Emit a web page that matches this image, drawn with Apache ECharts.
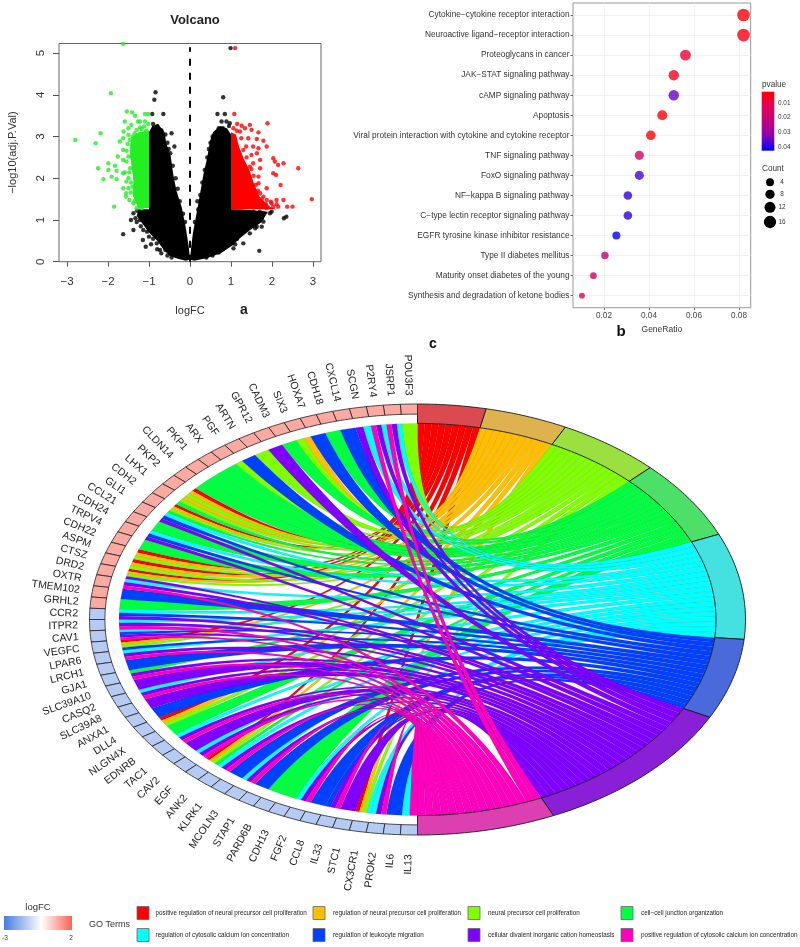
<!DOCTYPE html>
<html><head><meta charset="utf-8">
<style>html,body{margin:0;padding:0;background:#fff}#c{width:800px;height:947px}</style>
<script src="https://cdn.jsdelivr.net/npm/echarts@6/dist/echarts.min.js"></script>
</head><body><div id="c"></div>
<script>
const FONT='"Liberation Sans",Arial,sans-serif';
// ---------- a: volcano ----------
const volcanoBlackLeftCloud=[[-1,1.26],[-1,3.1],[-0.92,3.25],[-0.78,3.3],[-0.62,3.1],[-0.58,2.85],[-0.47,2.53],[-0.41,2.1],[-0.33,1.7],[-0.2,1.3],[-0.1,0.8],[-0.03,0.36],[0,0.05],[-0.1,0.02],[-0.3,0.07],[-0.5,0.14],[-0.65,0.3],[-0.8,0.5],[-1,0.7],[-1.15,0.9],[-1.3,1.1],[-1.25,1.26]];
const volcanoBlackRightCloud=[[0,0.05],[0.03,0.36],[0.07,0.68],[0.16,1.16],[0.33,2.1],[0.42,2.5],[0.49,2.9],[0.56,3.1],[0.73,3.25],[0.9,3.2],[1,3.05],[1,1.26],[1.3,1.25],[1.9,1.2],[1.75,0.95],[1.45,0.75],[1.2,0.55],[1.05,0.4],[0.75,0.2],[0.4,0.08],[0.1,0.02]];
const volcanoGreenCloud=[[-1,1.28],[-1,3.15],[-1.25,3.1],[-1.42,2.98],[-1.46,2.8],[-1.46,2.55],[-1.42,2.25],[-1.38,1.95],[-1.4,1.6],[-1.26,1.28]];
const volcanoRedCloud=[[1,1.26],[1,3.1],[1.12,3.05],[1.2,2.75],[1.32,2.45],[1.45,2.2],[1.55,1.9],[1.7,1.55],[1.95,1.32],[2.1,1.26]];
const volcanoBlackPoints=[[0.99,5.12],[-0.84,4.06],[-0.87,3.88],[0.81,3.94],[-0.92,3.54],[-0.65,3.54],[0.67,3.54],[0.85,3.54],[0.77,3.36],[0.89,3.36],[0.97,3.32],[-0.45,3.08],[-0.38,2.76],[1.69,0.26],[2.29,1.04],[2.35,1.08],[1.99,1.2],[-1.63,0.66],[-1.08,0.36],[-1.38,0.76],[-1.44,1.0],[-1.33,1.04],[-1.22,1.0],[-1.38,1.16],[-1.29,1.22],[-1.14,0.76],[-1.15,0.52],[-1.02,1.08],[-0.81,0.44],[-0.73,0.28],[1.63,0.84],[1.79,0.96],[1.75,0.84],[1.46,0.68],[1.59,0.8],[1.3,0.44],[1.22,0.68],[1.06,0.32],[1.38,1.0],[1.54,1.08],[1.79,1.16],[1.75,1.04],[1.95,1.16],[1.38,1.16],[-1.3,0.95],[-1.2,0.85],[-1.05,0.72],[-1.0,0.6],[-0.9,0.55],[-0.95,0.42],[-0.8,0.3],[-0.7,0.2],[-0.6,0.28],[-0.55,0.15],[-0.45,0.1],[1.5,0.95],[1.4,0.85],[1.3,0.75],[1.15,0.55],[1.1,0.42],[1.0,0.45],[0.9,0.38],[0.8,0.3],[0.7,0.22],[0.55,0.15],[0.4,0.1],[1.7,1.2],[1.55,1.2],[1.65,1.0],[1.25,0.9],[1.45,0.9],[-0.9,3.3],[-0.8,3.25],[-0.7,3.15],[-0.6,3.05],[-0.55,2.85],[-0.48,2.6],[-0.42,2.3],[-0.35,2.0],[-0.3,1.75],[-0.25,1.45],[0.95,3.25],[0.8,3.2],[0.7,3.2],[0.55,3.0],[0.5,2.85],[0.42,2.5],[0.36,2.2],[0.3,1.9],[0.25,1.6],[0.18,1.45],[-0.12,0.95],[-0.17,1.15],[0.12,0.95],[0.2,1.25],[-0.52,2.7],[0.46,2.7]];
const volcanoGreenPoints=[[-2.8,2.92],[-2.3,2.84],[-2.18,3.08],[-2.24,2.24],[-1.99,2.36],[-1.83,2.3],[-1.99,2.2],[-1.79,2.18],[-2.11,1.98],[-1.91,2.04],[-1.79,1.98],[-1.85,1.32],[-1.93,4.04],[-1.63,5.22],[-1.54,3.6],[-1.41,3.58],[-1.34,3.5],[-1.1,3.54],[-1.02,3.54],[-1.22,3.36],[-1.1,3.36],[-1.02,3.3],[-1.59,3.36],[-1.43,3.28],[-1.27,3.36],[-1.62,3.12],[-1.5,3.2],[-1.3,3.16],[-1.18,3.18],[-1.07,3.14],[-1.71,2.88],[-1.63,2.96],[-1.5,3.04],[-1.4,3.0],[-1.63,2.68],[-1.55,2.66],[-1.76,2.52],[-1.63,2.44],[-1.55,2.4],[-1.46,2.24],[-1.59,2.14],[-1.5,2.0],[-1.63,2.12],[-1.55,1.92],[-1.63,1.76],[-1.5,1.76],[-1.56,1.64],[-1.56,1.56],[-1.48,1.48],[-1.38,1.4],[-1.3,1.28],[-1.18,1.28],[-1.38,2.76],[-1.42,2.52],[-1.34,2.12],[-1.4,1.8],[-1.34,1.6],[-1.52,2.82],[-1.5,2.52],[-1.48,2.14],[-1.44,1.9],[-1.45,1.66],[-1.35,1.45],[-1.22,3.22],[-1.12,3.24],[-1.35,3.08],[-1.47,2.92]];
const volcanoRedPoints=[[1.08,3.54],[1.1,5.12],[1.15,3.3],[1.26,3.26],[1.46,3.28],[1.22,3.12],[1.34,3.2],[1.5,3.16],[1.67,3.1],[1.89,3.32],[1.42,2.96],[1.63,2.94],[1.79,2.9],[1.87,2.76],[1.54,2.76],[1.67,2.72],[1.5,2.56],[1.63,2.6],[1.37,2.76],[1.71,2.44],[1.54,2.36],[1.46,2.28],[1.71,2.24],[2.03,2.48],[2.07,2.4],[2.15,2.32],[2.28,2.36],[2.64,2.24],[2.03,2.12],[2.1,2.08],[2.21,1.84],[1.67,2.04],[1.67,1.88],[1.87,1.76],[1.71,1.64],[2.11,1.48],[2.28,1.48],[1.99,1.4],[2.97,1.5],[2.37,1.32],[2.5,1.32],[2.15,1.32],[2.03,1.32],[1.87,1.48],[1.79,1.56],[1.63,1.48],[1.54,1.72],[1.42,1.96],[1.38,2.12],[1.87,1.28],[1.54,1.36],[1.71,1.38],[1.97,1.44],[2.11,1.38],[1.14,3.14],[1.25,2.96],[1.3,2.68],[1.38,2.5],[1.5,2.22],[1.55,2.06],[1.6,1.84],[1.66,1.7],[1.75,1.5],[1.85,1.38],[1.06,3.2]];
const volcanoXTicks=[-3,-2,-1,0,1,2,3];
const volcanoClouds=[volcanoBlackLeftCloud,volcanoBlackRightCloud,volcanoGreenCloud,volcanoRedCloud];
const volcanoCloudColors=['#000','#000','#22ee22','#ff0000'];

// ---------- b: dot plot ----------
const pathways=['Cytokine\u2212cytokine receptor interaction','Neuroactive ligand\u2212receptor interaction','Proteoglycans in cancer','JAK\u2212STAT signaling pathway','cAMP signaling pathway','Apoptosis','Viral protein interaction with cytokine and cytokine receptor','TNF signaling pathway','FoxO signaling pathway','NF\u2212kappa B signaling pathway','C\u2212type lectin receptor signaling pathway','EGFR tyrosine kinase inhibitor resistance','Type II diabetes mellitus','Maturity onset diabetes of the young','Synthesis and degradation of ketone bodies'];
const geneRatio=[0.082,0.082,0.0562,0.0510,0.0510,0.0459,0.0408,0.0357,0.0357,0.0306,0.0306,0.0255,0.0204,0.0153,0.0102];
const pathwayCount=[16,16,11,10,10,9,8,7,7,6,6,5,4,3,2];
const pathwayP=[0.0025,0.0045,0.0075,0.0055,0.035,0.0035,0.003,0.0165,0.037,0.039,0.039,0.042,0.021,0.016,0.013];
const ratioTicks=[0.02,0.04,0.06,0.08];
const pRange=[0.0023,0.0423];
const pRamp=['#ff0000','#e2005a','#c1007c','#8c00b5','#0000ff'];
const pTicks=[0.01,0.02,0.03,0.04];
const countTicks=[4,8,12,16];

// ---------- c: GO chord ----------
const genes=['POU3F3','JSRP1','P2RY4','SCGN','CXCL14','CDH18','HOXA7','SIX3','CADM3','GPR12','ARTN','PGF','ARX','PKP1','CLDN14','PKP2','LHX1','CDH2','GLI1','CCL21','CDH24','TRPV4','CDH22','ASPM','CTSZ','DRD2','OXTR','TMEM102','GRHL2','CCR2','ITPR2','CAV1','VEGFC','LPAR6','LRCH1','GJA1','SLC39A10','CASQ2','SLC39A8','ANXA1','DLL4','NLGN4X','EDNRB','TAC1','CAV2','EGF','ANK2','KLRK1','MCOLN3','STAP1','PARD6B','CDH13','FGF2','CCL8','IL33','STC1','CX3CR1','PROK2','IL6','IL13'];
const geneLogFC=[1.1,1.1,1.1,1.1,1.1,1.1,1.1,1.1,1.1,1.1,1.1,1.1,1.1,1.1,1.1,1.1,1.1,1.1,1.1,1.1,1.1,1.1,1.1,1.1,1.1,1.1,1.1,1.1,1.1,-1.2,-1.2,-1.2,-1.2,-1.2,-1.2,-1.2,-1.2,-1.2,-1.2,-1.2,-1.2,-1.2,-1.2,-1.2,-1.2,-1.2,-1.2,-1.2,-1.2,-1.2,-1.2,-1.2,-1.2,-1.2,-1.2,-1.2,-1.2,-1.2,-1.2,-1.2];
// terms per gene: 0 red 1 orange 2 lime 3 green 4 cyan 5 blue 6 purple 7 magenta
const geneTerms=[[2],[4,6,7],[4,6,7],[4,6],[5],[3],[5],[1,2],[3],[6],[2],[5],[2,3],[3],[3],[3],[0,1,2],[1,2,3],[0,1,2,3],[4,5,6],[3],[4,5,6],[3],[0,1,2],[0,1,2],[0,1,2,6],[4,6,7],[5],[3],[4,5,6],[4,6,7],[4,5,6,7],[0,1,2,5],[4,6,7],[5],[3,6,7],[6],[4,6,7],[6],[5],[0,1,2],[3],[4,6,7],[6],[4,6,7],[0,1,2,3],[4,6,7],[5],[4,6,7],[5],[3],[3],[4,6,7],[5],[5,6,7],[6],[0,1,2,4],[4,6,7],[5],[4,7]];
const goTerms=['positive regulation of neural precursor cell proliferation','regulation of neural precursor cell proliferation','neural precursor cell proliferation','cell\u2212cell junction organization','regulation of cytosolic calcium ion concentration','regulation of leukocyte migration','cellular divalent inorganic cation homeostasis','positive regulation of cytosolic calcium ion concentration'];
const termColors=['#FF0000','#FFBF00','#80FF00','#00FF40','#00FFFF','#0040FF','#8000FF','#FF00BF'];
const termBandColors=['#DA4A50','#DDB24F','#9AE040','#4DE068','#45E0E0','#4A6ADC','#8A1FD8','#DC40B0'];
const termArcEnds=[12.1,26.8,45.2,66.7,95.3,117,155.5,180]; // degrees clockwise from top

const RIB=0.91, TILE_IN=0.953;
const geneStep=180/genes.length;
const toXY=(deg,r)=>[r*Math.sin(deg*Math.PI/180),r*Math.cos(deg*Math.PI/180)];
const termMembers=termColors.map(()=>[]);
geneTerms.forEach((ts,g)=>ts.forEach(t=>termMembers[t].push(g)));
const ribbons=[];
termColors.forEach((_,t)=>{
  const a0=t?termArcEnds[t-1]:0,a1=termArcEnds[t],w=(a1-a0)/termMembers[t].length;
  termMembers[t].forEach((g,s)=>{
    const ts=geneTerms[g],i=ts.indexOf(t),gw=geneStep/ts.length;
    ribbons.push([g,t,g*geneStep+i*gw,g*geneStep+(i+1)*gw,a0+s*w,a0+(s+1)*w]);
  });
});
function lerpColor(v){
  const end=v>0?[248,100,85]:[70,125,225],f=v>0?v/2:-v/3,c=end.map(e=>Math.round(255+(e-255)*f));
  return 'rgb('+c.join(',')+')';
}
function arcPts(a0,a1,r,n){const o=[];for(let i=0;i<=n;i++)o.push(toXY(a0+(a1-a0)*i/n,r));return o;}
function ribbonPts(d){
  const A1=toXY(-d[2],RIB),A2=toXY(-d[3],RIB),B1=toXY(d[4],RIB),B2=toXY(d[5],RIB),pts=[],N=30;
  for(let i=0;i<=N;i++){const t=i/N,a=(1-t)*(1-t),b=t*t;pts.push([a*A1[0]+b*B1[0],a*A1[1]+b*B1[1]]);}
  for(let i=N;i>=0;i--){const t=i/N,a=(1-t)*(1-t),b=t*t;pts.push([a*A2[0]+b*B2[0],a*A2[1]+b*B2[1]]);}
  return pts;
}

const minusFmt=v=>String(v).replace('-','\u2212');
const option={
  animation:false,backgroundColor:'#fff',textStyle:{fontFamily:FONT},
  title:{text:'Volcano',left:190,top:9,textAlign:'center',textStyle:{fontFamily:FONT,fontSize:13,fontWeight:'bold',color:'#222'}},
  grid:[
    {left:59,top:43.5,width:262,height:218.2,show:true,borderColor:'#666',borderWidth:1,backgroundColor:'#fff'},
    {left:573,top:3,width:177.7,height:304.7,show:true,borderColor:'#999',borderWidth:1},
    {left:89.5,top:404,width:656,height:431}
  ],
  xAxis:[
    {gridIndex:0,type:'value',min:-3.195,max:3.195,name:'logFC',nameLocation:'middle',nameGap:44,nameTextStyle:{fontSize:11,color:'#333'},
     axisLine:{show:false,onZero:false},splitLine:{show:false},
     axisTick:{show:true,length:5,lineStyle:{color:'#555'},customValues:volcanoXTicks},
     axisLabel:{fontSize:11.5,color:'#333',margin:14,formatter:minusFmt,customValues:volcanoXTicks}},
    {gridIndex:1,type:'value',min:0.00622,max:0.0852,name:'GeneRatio',nameLocation:'middle',nameGap:17,nameTextStyle:{fontSize:8.5,color:'#333'},
     axisLine:{show:false,onZero:false},splitLine:{show:true,lineStyle:{color:'#eeeeee',width:0.8}},
     axisTick:{show:true,length:2.5,lineStyle:{color:'#666'},customValues:ratioTicks},
     axisLabel:{fontSize:8.2,color:'#444',margin:4,formatter:v=>v.toFixed(2),customValues:ratioTicks}},
    {gridIndex:2,type:'value',min:-1,max:1,show:false}
  ],
  yAxis:[
    {gridIndex:0,type:'value',min:0,max:5.23,interval:1,name:'-log10(adj.P.Val)'.replace('-','\u2212'),nameLocation:'middle',nameGap:41,nameTextStyle:{fontSize:11,color:'#333'},
     axisLine:{show:false,onZero:false},splitLine:{show:false},axisTick:{show:true,length:6,lineStyle:{color:'#555'}},
     axisLabel:{fontSize:11.5,color:'#333',rotate:90,margin:12}},
    {gridIndex:1,type:'value',inverse:true,min:-0.6,max:14.6,
     axisLine:{show:false,onZero:false},splitLine:{show:true,lineStyle:{color:'#eeeeee',width:0.8}},
     axisTick:{show:true,length:2.5,lineStyle:{color:'#666'},customValues:pathways.map((_,i)=>i)},
     axisLabel:{fontSize:8.3,color:'#333',margin:3.5,formatter:v=>pathways[v]||'',customValues:pathways.map((_,i)=>i)}},
    {gridIndex:2,type:'value',min:-1,max:1,show:false}
  ],
  visualMap:[{show:false,seriesIndex:4,dimension:3,min:pRange[0],max:pRange[1],inRange:{color:pRamp}}],
  series:[
    {name:'clouds',type:'custom',xAxisIndex:0,yAxisIndex:0,clip:true,data:volcanoClouds.map((_,i)=>[i]),z:2,
     renderItem:(p,api)=>({type:'polygon',shape:{points:volcanoClouds[p.dataIndex].map(c=>api.coord(c))},style:{fill:volcanoCloudColors[p.dataIndex]}})},
    {name:'not significant',type:'scatter',xAxisIndex:0,yAxisIndex:0,symbolSize:4.4,itemStyle:{color:'#000'},data:volcanoBlackPoints,z:3,
     markLine:{silent:true,symbol:'none',label:{show:false},lineStyle:{color:'#000',width:2,type:[7,7]},z:3,data:[[{coord:[0,0]},{coord:[0,5.14]}]]}},
    {name:'down',type:'scatter',xAxisIndex:0,yAxisIndex:0,symbolSize:4.4,itemStyle:{color:'#22ee22'},data:volcanoGreenPoints,z:4},
    {name:'up',type:'scatter',xAxisIndex:0,yAxisIndex:0,symbolSize:4.4,itemStyle:{color:'#ff0000'},data:volcanoRedPoints,z:4},
    {name:'pathways',type:'scatter',xAxisIndex:1,yAxisIndex:1,z:4,
     data:pathways.map((_,i)=>[geneRatio[i],i,pathwayCount[i],pathwayP[i]]),
     symbolSize:d=>2.2+2.62*Math.sqrt(d[2])},
    {name:'ribbons',type:'custom',xAxisIndex:2,yAxisIndex:2,clip:false,z:2,data:ribbons,
     renderItem:(p,api)=>{const d=ribbons[p.dataIndex];
       return {type:'polygon',shape:{points:ribbonPts(d).map(c=>api.coord(c))},style:{fill:termColors[d[1]],stroke:'rgba(0,0,0,0.28)',lineWidth:0.3}};}},
    {name:'terms',type:'custom',xAxisIndex:2,yAxisIndex:2,clip:false,z:3,data:termArcEnds.map((_,i)=>[i]),
     renderItem:(p,api)=>{const t=p.dataIndex,a0=t?termArcEnds[t-1]:0,a1=termArcEnds[t];
       const pts=arcPts(a0,a1,1,30).concat(arcPts(a1,a0,RIB,30));
       return {type:'polygon',shape:{points:pts.map(c=>api.coord(c))},style:{fill:termBandColors[t],stroke:'#1a1a1a',lineWidth:0.9}};}},
    {name:'geneTiles',type:'custom',xAxisIndex:2,yAxisIndex:2,clip:false,z:3,data:genes.map((_,i)=>[i]),
     renderItem:(p,api)=>{const g=p.dataIndex,a0=-g*geneStep,a1=-(g+1)*geneStep;
       const pts=arcPts(a0,a1,1,4).concat(arcPts(a1,a0,TILE_IN,4));
       return {type:'polygon',shape:{points:pts.map(c=>api.coord(c))},style:{fill:lerpColor(geneLogFC[g]),stroke:'#222',lineWidth:0.8}};}},
    {name:'geneLabels',type:'custom',xAxisIndex:2,yAxisIndex:2,clip:false,z:3,data:genes.map((_,i)=>[i]),
     renderItem:(p,api)=>{const g=p.dataIndex,th=(g+0.5)*geneStep,rad=th*Math.PI/180,s=Math.sin(rad),c=Math.cos(rad);
       const s2=Math.sin(2*rad),rx=1.035+0.055*s2*s2,ry=c>0?1.04:1.04-0.05*c;
       const pt=api.coord([-rx*s,ry*c]);
       return {type:'text',x:pt[0],y:pt[1],rotation:(th-90)*Math.PI/180,
         style:{text:genes[g],fontSize:10.5,fontFamily:FONT,fill:'#222',align:'right',verticalAlign:'middle'}};}}
  ],
  graphic:{elements:[]}
};
const G=option.graphic.elements;
const txt=(t,x,y,o={})=>G.push({type:'text',x,y,silent:true,style:Object.assign({text:t,fontFamily:FONT,fontSize:8,fill:'#333',align:'left',verticalAlign:'middle'},o)});
txt('a',244,310,{fontSize:14,fontWeight:'bold',fill:'#222',align:'center'});
txt('b',621,332,{fontSize:15,fontWeight:'bold',fill:'#111',align:'center'});
txt('c',433,344,{fontSize:14,fontWeight:'bold',fill:'#111',align:'center'});
txt('pvalue',762,84.5,{fontSize:8.2});
G.push({type:'rect',shape:{x:761.7,y:91.7,width:12.6,height:59},style:{fill:{type:'linear',x:0,y:0,x2:0,y2:1,colorStops:pRamp.map((c,i)=>({offset:i/(pRamp.length-1),color:c}))}}});
pTicks.forEach((v,i)=>txt(v.toFixed(2),778,103+i*14.7,{fontSize:6.4}));
txt('Count',762,169,{fontSize:8.2});
[[182.3,8],[194.3,9.3],[207.3,11],[222,12.3]].forEach((o,i)=>{
  G.push({type:'circle',shape:{cx:770,cy:o[0],r:o[1]/2},style:{fill:'#000'}});
  txt(String(countTicks[i]),782,o[0],{fontSize:6.4,align:'center'});
});
txt('logFC',38,907,{fontSize:9.5,align:'center'});
G.push({type:'rect',shape:{x:4,y:916,width:68,height:14},style:{fill:{type:'linear',x:0,y:0,x2:1,y2:0,colorStops:[{offset:0,color:'#467de1'},{offset:0.55,color:'#ffffff'},{offset:1,color:'#f86455'}]}}});
txt('-3',2,938,{fontSize:6.5});
txt('2',71,938,{fontSize:6.5,align:'center'});
txt('GO Terms',89,925,{fontSize:9});
const swatchX=[137,313,468,621],textX=[155.6,333,488,641],rowY=[913,935];
goTerms.forEach((t,i)=>{
  const col=i%4,row=i<4?0:1;
  G.push({type:'rect',shape:{x:swatchX[col],y:rowY[row]-6.5,width:12,height:13},style:{fill:termColors[i],stroke:'#666',lineWidth:0.8}});
  txt(t,textX[col],rowY[row],{fontSize:6.3,fill:'#222'});
});
const chart=echarts.init(document.getElementById('c'),null,{renderer:'canvas'});
chart.setOption(option);
</script></body></html>
